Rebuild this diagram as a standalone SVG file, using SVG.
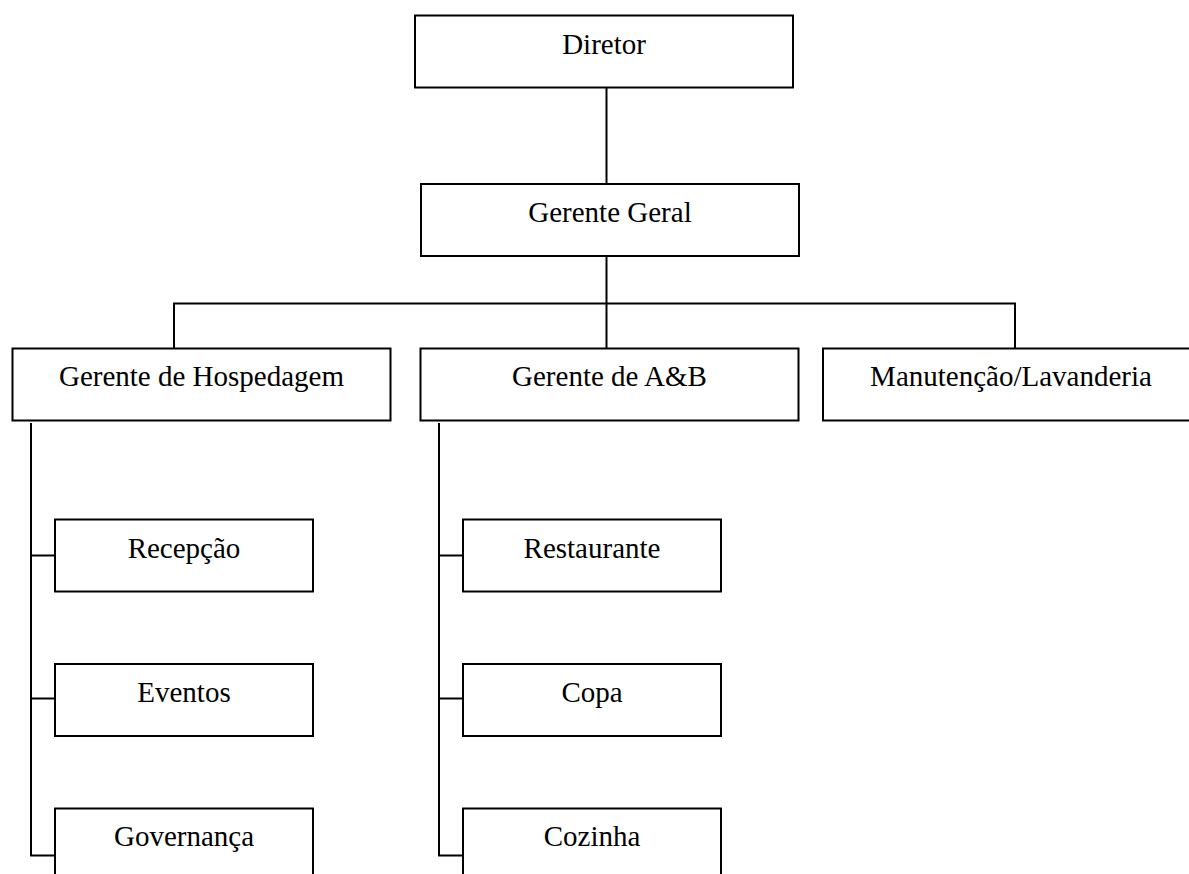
<svg xmlns="http://www.w3.org/2000/svg" width="1189" height="874" viewBox="0 0 1189 874">
<style>
.box{fill:#fff;stroke:#000;stroke-width:2}
.lbl{font-family:"Liberation Serif","Times New Roman",serif;font-size:29px;fill:#000;text-anchor:middle}
.con{fill:none;stroke:#000;stroke-width:2}
</style>
<rect width="1189" height="874" fill="#fff"/>
<g id="connectors">
<path class="con" d="M606.5 88V184"/>
<path class="con" d="M606.5 256V348"/>
<path class="con" d="M174 348V303.5H1015V348"/>
<path class="con" d="M31 423V855.5H55"/>
<path class="con" d="M31 555.5H55"/>
<path class="con" d="M31 698.5H55"/>
<path class="con" d="M439 423V855.5H463"/>
<path class="con" d="M439 555.5H463"/>
<path class="con" d="M439 698.5H463"/>
</g>
<g id="diretor"><rect class="box" x="415" y="15.5" width="378" height="72"/><text class="lbl" x="604" y="54">Diretor</text></g>
<g id="gerente-geral"><rect class="box" x="421" y="184" width="378" height="72"/><text class="lbl" x="610" y="222">Gerente Geral</text></g>
<g id="gerente-hospedagem"><rect class="box" x="12.5" y="348.5" width="378" height="72"/><text class="lbl" x="201.5" y="386">Gerente de Hospedagem</text></g>
<g id="gerente-ab"><rect class="box" x="420.5" y="348.5" width="378" height="72"/><text class="lbl" x="609.5" y="386">Gerente de A&amp;B</text></g>
<g id="manutencao"><rect class="box" x="823" y="348.5" width="380" height="72"/><text class="lbl" x="1011" y="386">Manutenção/Lavanderia</text></g>
<g id="recepcao"><rect class="box" x="55" y="519.5" width="258" height="72"/><text class="lbl" x="184" y="557.5">Recepção</text></g>
<g id="eventos"><rect class="box" x="55" y="664" width="258" height="72"/><text class="lbl" x="184" y="702">Eventos</text></g>
<g id="governanca"><rect class="box" x="55" y="808.5" width="258" height="72"/><text class="lbl" x="184" y="845.5">Governança</text></g>
<g id="restaurante"><rect class="box" x="463" y="519.5" width="258" height="72"/><text class="lbl" x="592" y="557.5">Restaurante</text></g>
<g id="copa"><rect class="box" x="463" y="664" width="258" height="72"/><text class="lbl" x="592" y="702">Copa</text></g>
<g id="cozinha"><rect class="box" x="463" y="808.5" width="258" height="72"/><text class="lbl" x="592" y="845.5">Cozinha</text></g>
</svg>
